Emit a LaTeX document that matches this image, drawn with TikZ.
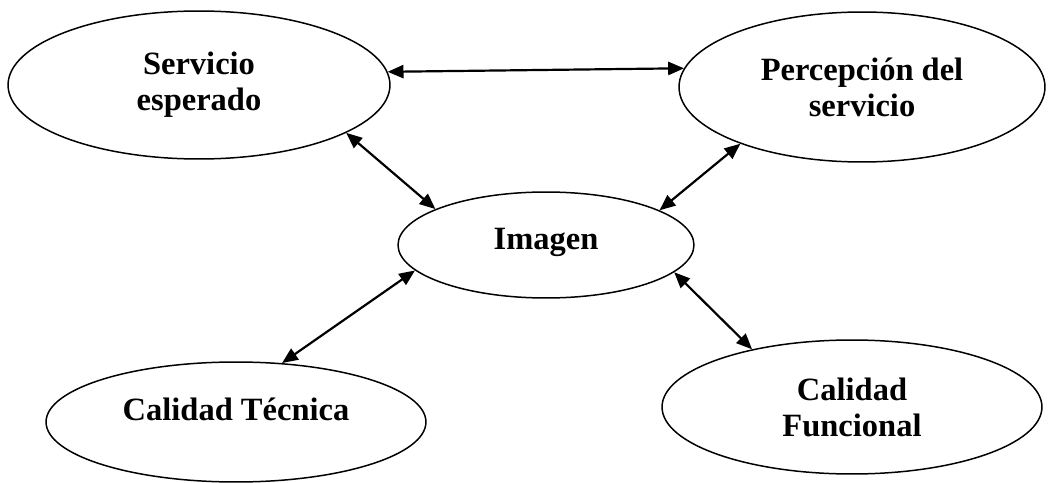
\documentclass[tikz,border=0pt]{standalone}
\usepackage{fontspec}
\setmainfont{Liberation Serif}
\usepackage{tikz}
\usetikzlibrary{arrows.meta,shapes.geometric}

\begin{document}
\begin{tikzpicture}[x=0.02cm,y=-0.02cm,
		elipse/.style={draw,ellipse,line width=0.85pt,inner sep=0pt,align=center,font=\bfseries\fontsize{18.5}{20.5}\selectfont},
		flecha/.style={<->,line width=1.25pt},
		>={Triangle[length=9pt,width=7.5pt]}]
		\useasboundingbox (0,0) rectangle (1049,483);
		\node[elipse,minimum width=7.64cm,minimum height=2.96cm] (esperado) at (199,85) {Servicio\\esperado};
		\node[elipse,minimum width=7.32cm,minimum height=3cm] (percepcion) at (862,87) {Percepción del\\servicio};
		\node[elipse,minimum width=5.92cm,minimum height=2.12cm,text height=0.43cm,text depth=0.24cm] (imagen) at (546,245) {Imagen};
		\node[elipse,minimum width=7.6cm,minimum height=2.4cm,text height=0.44cm,text depth=0.52cm] (tecnica) at (236,422) {Calidad Técnica};
		\node[elipse,minimum width=7.6cm,minimum height=2.68cm] (funcional) at (852,407) {Calidad\\Funcional};
		\draw[flecha] (esperado.4.5) -- (percepcion.174.7);
		\draw[flecha] (esperado.-18.4) -- (imagen.162.2);
		\draw[flecha] (percepcion.205.8) -- (imagen.17.8);
		\draw[flecha] (imagen.191.9) -- (tecnica.52);
		\draw[flecha] (imagen.-12.5) -- (funcional.150.8);
\end{tikzpicture}
\end{document}
